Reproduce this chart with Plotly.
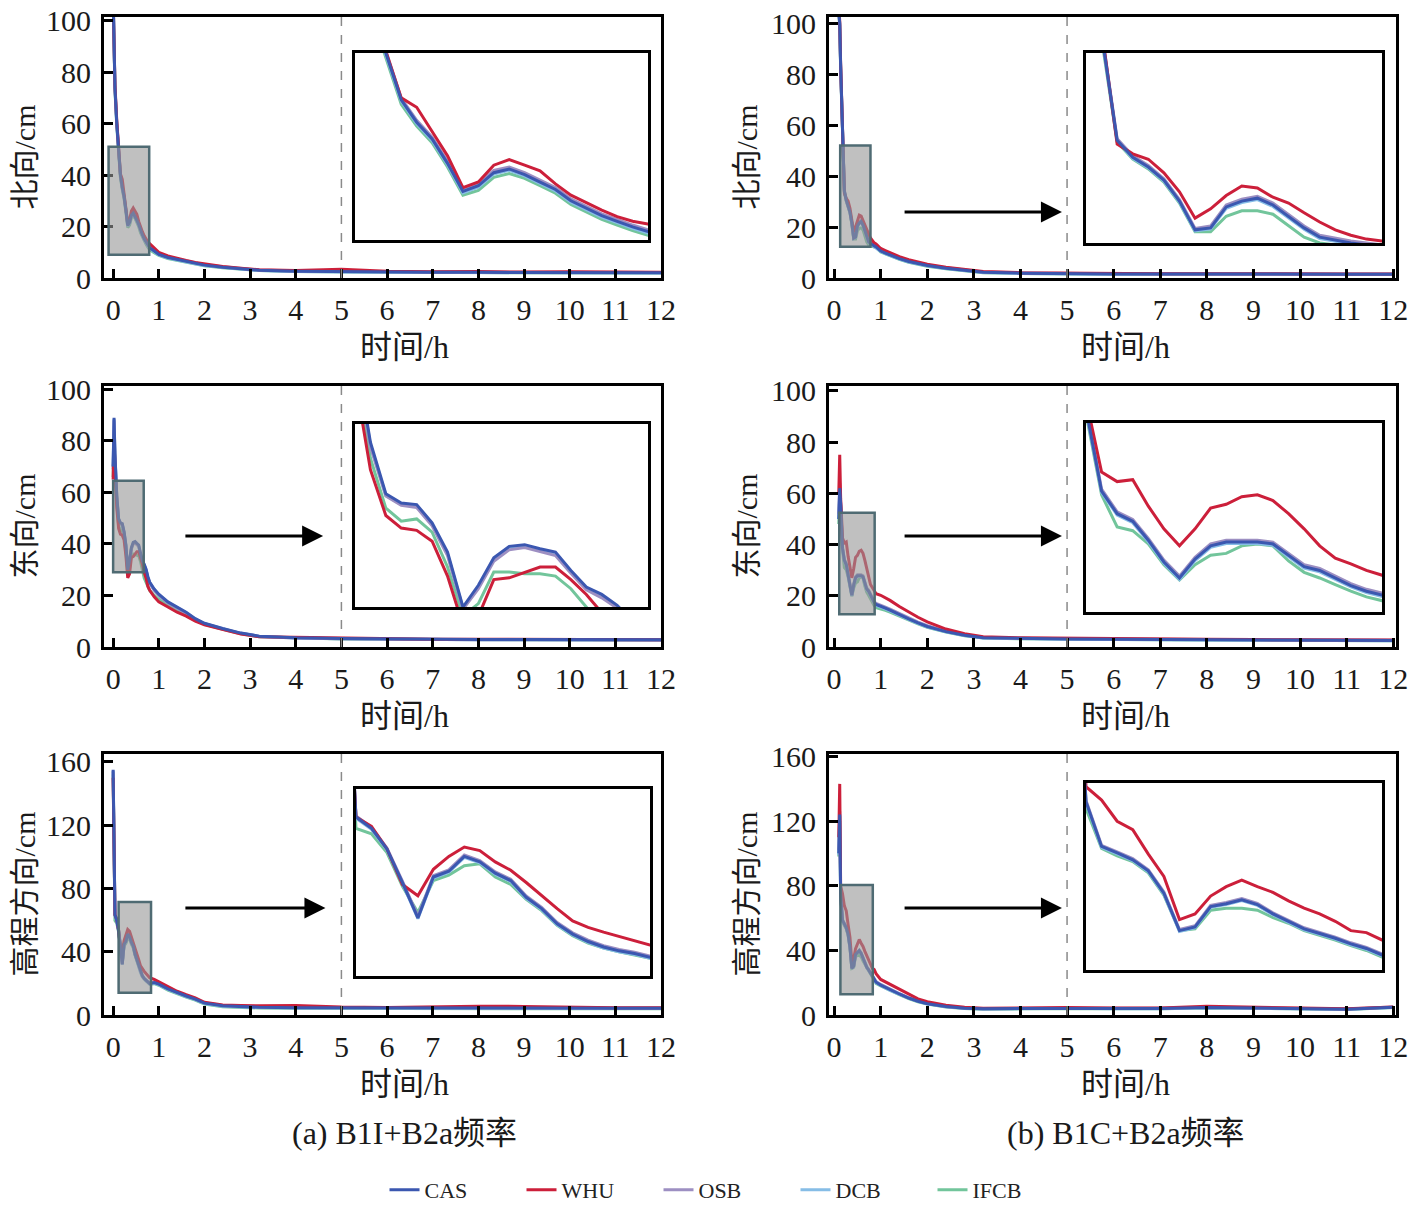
import plotly.graph_objects as go

W, H = 1414, 1212
FONT = "Liberation Serif, 'Noto Sans CJK SC', serif"

# -- time axes (h) ------------------------------------------------------------
time_a = [0, 0.02, 0.04, 0.08, 0.12, 0.16, 0.20, 0.24, 0.28, 0.32, 0.36, 0.40, 0.44, 0.48,
          0.52, 0.56, 0.60, 0.64, 0.68, 0.72, 0.76, 0.80, 0.9, 1.0, 1.2, 1.4, 1.6, 1.8, 2.0,
          2.4, 2.8, 3.2, 4, 5, 6, 7, 8, 9, 10, 11, 12]
time_b = [0.10, 0.12, 0.14, 0.18, 0.22, 0.26, 0.30, 0.34, 0.38, 0.42, 0.46, 0.50, 0.54, 0.58,
          0.62, 0.66, 0.70, 0.74, 0.78, 0.82, 0.86, 0.90, 1.0, 1.1, 1.2, 1.4, 1.6, 1.8, 2.0,
          2.4, 2.8, 3.2, 4, 5, 6, 7, 8, 9, 10, 11, 12]

# -- (a) B1I+B2a -----------------------------------------------------------------
north_a = {
    "CAS":  [110, 95, 74, 60, 50, 40, 35.2, 31.6, 26.4, 20.4, 21.6, 24.4, 25.2, 24.0, 22.4, 20.8,
             18.4, 16.8, 15.2, 14.0, 12.8, 11.8, 10.5, 9.2, 8.0, 7.2, 6.4, 5.6, 5.0, 4.2, 3.6, 3.0,
             2.6, 2.4, 2.3, 2.2, 2.2, 2.1, 2.2, 2.1, 2.0],
    "WHU":  [108, 93, 75, 61, 50.4, 40.4, 38.4, 33.2, 28.0, 21.2, 22.4, 26.0, 27.2, 26.0, 24.8, 22.0,
             19.6, 18.0, 16.4, 15.0, 14.0, 13.4, 11.5, 10.0, 8.6, 7.6, 6.8, 6.0, 5.4, 4.5, 3.8, 3.2,
             2.9, 3.4, 2.6, 2.4, 2.5, 2.3, 2.4, 2.3, 2.2],
    "OSB":  [110, 95.5, 74.5, 60.5, 50.3, 40.3, 35.6, 32.0, 26.8, 20.8, 22.0, 24.9, 25.6, 24.4, 22.8,
             21.2, 18.8, 17.2, 15.6, 14.4, 13.2, 12.2, 10.8, 9.5, 8.2, 7.4, 6.6, 5.8, 5.2, 4.4, 3.7,
             3.1, 2.7, 2.5, 2.4, 2.3, 2.3, 2.2, 2.3, 2.2, 2.1],
    "DCB":  [109.5, 94.5, 73.6, 59.6, 49.7, 39.7, 34.9, 31.3, 26.1, 20.1, 21.3, 24.1, 24.9, 23.7,
             22.1, 20.5, 18.1, 16.5, 14.9, 13.7, 12.5, 11.5, 10.3, 9.0, 7.8, 7.0, 6.3, 5.5, 4.9, 4.1,
             3.5, 2.9, 2.5, 2.3, 2.2, 2.1, 2.1, 2.0, 2.1, 2.0, 1.9],
    "IFCB": [109, 94, 73, 59, 49, 39, 34.4, 30.8, 25.6, 19.6, 20.6, 23.4, 24.2, 23.2, 21.6, 20.0,
             17.6, 16.0, 14.4, 13.2, 12.0, 11.0, 9.8, 8.8, 7.6, 6.9, 6.1, 5.4, 4.8, 4.0, 3.4, 2.9,
             2.5, 2.3, 2.2, 2.1, 2.1, 2.0, 2.1, 2.0, 1.9],
}
east_a = {
    "CAS":  [70, 89, 75, 58.8, 49.8, 48.2, 47.9, 44.7, 39.6, 30.0, 33.8, 38.6, 40.6, 40.9, 40.2, 39.6,
             36.4, 33.5, 32.2, 30.3, 27.4, 25.2, 22.5, 20.5, 17.5, 15.5, 13.5, 11.0, 9.2, 7.2, 5.4,
             4.2, 3.6, 3.3, 3.1, 3.0, 2.9, 2.9, 2.8, 2.8, 2.8],
    "WHU":  [65, 80, 70, 54, 46, 43.8, 43.4, 41.5, 35.4, 26.8, 28.4, 34.8, 35.1, 36.1, 37.0, 37.0,
             34.8, 32.2, 29.0, 26.8, 23.6, 22.0, 19.5, 17.5, 15.5, 13.5, 12.0, 10.0, 8.6, 6.8, 5.0,
             4.0, 3.8, 3.4, 3.2, 3.0, 3.0, 2.9, 2.9, 2.8, 2.8],
    "OSB":  [69, 88, 74, 58, 49.4, 47.8, 47.4, 44.2, 39.0, 29.6, 33.2, 38.0, 40.0, 40.4, 39.7, 39.0,
             35.9, 33.0, 31.6, 29.8, 26.9, 24.8, 22.0, 20.0, 17.1, 15.1, 13.1, 10.7, 9.0, 7.0, 5.3,
             4.1, 3.5, 3.2, 3.0, 2.9, 2.8, 2.8, 2.7, 2.7, 2.7],
    "DCB":  [70, 88.5, 74.5, 58.4, 49.5, 47.9, 47.6, 44.4, 39.3, 29.8, 33.5, 38.3, 40.3, 40.6, 39.9,
             39.3, 36.1, 33.2, 31.9, 30.0, 27.1, 24.9, 22.2, 20.2, 17.3, 15.3, 13.3, 10.8, 9.1, 7.1,
             5.3, 4.1, 3.5, 3.2, 3.0, 2.9, 2.8, 2.8, 2.7, 2.7, 2.7],
    "IFCB": [66, 84, 72, 56, 47.3, 45.0, 45.4, 43.1, 37.0, 28.4, 30.6, 36.1, 36.1, 35.8, 35.8, 35.4,
             33.2, 30.0, 26.8, 25.2, 23.6, 22.0, 20.0, 18.5, 16.0, 14.0, 12.5, 10.5, 8.8, 6.9, 5.1,
             4.0, 3.5, 3.1, 3.0, 2.9, 2.8, 2.8, 2.7, 2.7, 2.7],
}
up_a = {
    "CAS":  [155, 110, 63.3, 59.8, 53.4, 43.0, 32.0, 44.7, 46.5, 51.1, 49.4, 45.9, 43.6, 38.4, 34.9,
             30.2, 27.0, 24.7, 23.0, 21.8, 21.0, 19.8, 20.5, 19.5, 16.5, 14.0, 12.0, 10.0, 7.5, 5.8,
             5.2, 4.9, 4.6, 4.5, 4.5, 4.4, 4.5, 4.4, 4.3, 4.3, 4.3],
    "WHU":  [150, 108, 63.3, 60.4, 53.4, 42.4, 38.9, 47.1, 51.1, 54.0, 52.9, 49.4, 46.8, 43.0, 38.9,
             34.9, 31.1, 29.1, 27.6, 26.2, 25.0, 23.6, 22.5, 21.0, 18.0, 15.0, 12.8, 10.8, 8.0, 6.4,
             6.0, 5.8, 6.0, 5.0, 4.8, 5.2, 5.6, 5.4, 4.8, 4.6, 4.6],
    "OSB":  [154, 109, 63.6, 60.1, 53.7, 43.4, 32.5, 45.1, 46.9, 51.5, 49.8, 46.3, 44.0, 38.8, 35.3,
             30.6, 27.4, 25.1, 23.4, 22.2, 21.4, 20.2, 20.9, 19.9, 16.9, 14.3, 12.3, 10.3, 7.8, 6.0,
             5.4, 5.1, 4.8, 4.7, 4.7, 4.6, 4.7, 4.6, 4.5, 4.5, 4.5],
    "DCB":  [154.5, 109.5, 63.0, 59.5, 53.1, 42.7, 31.8, 44.4, 46.2, 50.8, 49.1, 45.6, 43.3, 38.1,
             34.6, 29.9, 26.7, 24.4, 22.7, 21.5, 20.7, 19.5, 20.2, 19.2, 16.2, 13.7, 11.7, 9.8, 7.3,
             5.6, 5.0, 4.7, 4.4, 4.3, 4.3, 4.2, 4.3, 4.2, 4.1, 4.1, 4.1],
    "IFCB": [152, 106, 59.8, 58.1, 52.3, 41.8, 33.7, 43.6, 45.3, 48.2, 48.8, 44.7, 42.4, 37.8, 34.3,
             29.7, 26.5, 24.2, 22.7, 21.5, 20.4, 19.5, 19.8, 18.8, 15.8, 13.4, 11.4, 9.4, 7.0, 5.2,
             4.6, 4.4, 4.2, 4.2, 4.1, 4.1, 4.0, 4.0, 4.0, 3.9, 3.9],
}

# -- (b) B1C+B2a -----------------------------------------------------------------
north_b = {
    "CAS":  [105, 100, 83, 56, 34.1, 30.6, 28.6, 25.9, 21.6, 15.7, 16.1, 20.4, 21.6, 22.2, 20.8, 18.5,
             16.1, 14.2, 13.6, 13.0, 12.6, 12.2, 10.6, 9.8, 9.0, 7.6, 6.5, 5.6, 4.9, 3.8, 3.0, 2.3,
             1.9, 1.7, 1.6, 1.6, 1.5, 1.5, 1.5, 1.5, 1.5],
    "WHU":  [106, 101, 84, 57, 33.3, 31.3, 30.2, 27.4, 23.5, 18.1, 20.0, 22.75, 24.7, 24.3, 22.4, 21.2,
             19.2, 17.3, 15.7, 14.6, 13.8, 13.4, 11.6, 10.8, 10.0, 8.4, 7.2, 6.2, 5.4, 4.2, 3.3, 2.6,
             2.1, 1.9, 1.8, 1.7, 1.7, 1.6, 1.6, 1.6, 1.6],
    "OSB":  [105, 100, 83.4, 56.4, 34.4, 30.9, 28.9, 26.2, 21.9, 16.0, 16.5, 20.8, 22.0, 22.6, 21.2,
             18.9, 16.5, 14.6, 14.0, 13.4, 13.0, 12.6, 10.9, 10.1, 9.3, 7.9, 6.8, 5.8, 5.1, 4.0, 3.1,
             2.4, 2.0, 1.8, 1.7, 1.7, 1.6, 1.6, 1.6, 1.6, 1.6],
    "DCB":  [104.5, 99.5, 82.7, 55.7, 33.9, 30.4, 28.4, 25.7, 21.4, 15.5, 15.9, 20.1, 21.3, 21.9,
             20.5, 18.2, 15.8, 13.9, 13.3, 12.8, 12.4, 12.0, 10.4, 9.6, 8.8, 7.4, 6.3, 5.5, 4.8, 3.7,
             2.9, 2.2, 1.8, 1.6, 1.5, 1.5, 1.4, 1.4, 1.4, 1.4, 1.4],
    "IFCB": [104, 99, 82, 55, 33.7, 30.2, 28.2, 25.5, 21.2, 15.3, 15.3, 18.5, 19.6, 19.6, 18.9, 16.5,
             14.2, 13.0, 12.6, 12.4, 12.2, 12.0, 10.2, 9.4, 8.6, 7.3, 6.2, 5.3, 4.6, 3.6, 2.8, 2.1,
             1.8, 1.6, 1.5, 1.5, 1.4, 1.4, 1.4, 1.4, 1.4],
}
east_b = {
    "CAS":  [50, 62, 56, 38.6, 33.8, 32.2, 28.2, 23.6, 20.2, 24.2, 27.0, 27.8, 27.8, 27.8, 27.4, 25.0,
             22.6, 21.8, 20.2, 18.6, 17.4, 16.6, 16.0, 15.2, 14.4, 12.6, 11.0, 9.4, 8.0, 6.0, 4.6,
             3.6, 3.3, 3.1, 3.0, 2.9, 2.8, 2.7, 2.6, 2.5, 2.5],
    "WHU":  [60, 75, 58, 42.6, 40.6, 41.0, 35.4, 30.6, 27.0, 30.6, 35.0, 35.8, 37.4, 37.8, 36.6, 33.8,
             30.6, 27.0, 24.4, 23.2, 21.8, 20.8, 20.2, 19.2, 18.2, 15.8, 13.6, 11.6, 9.8, 7.0, 5.2,
             4.0, 3.6, 3.4, 3.2, 3.1, 3.0, 2.9, 2.8, 2.8, 2.7],
    "OSB":  [52, 64, 56.5, 39.0, 34.2, 32.6, 28.6, 24.0, 20.6, 24.6, 27.4, 28.2, 28.2, 28.2, 27.8,
             25.4, 23.0, 22.2, 20.6, 19.0, 17.8, 17.0, 16.4, 15.6, 14.8, 13.0, 11.3, 9.7, 8.3, 6.2,
             4.7, 3.7, 3.4, 3.2, 3.1, 3.0, 2.9, 2.8, 2.7, 2.6, 2.6],
    "DCB":  [50, 61, 55.6, 38.3, 33.5, 31.9, 27.9, 23.3, 19.9, 23.9, 26.7, 27.5, 27.5, 27.5, 27.1,
             24.7, 22.3, 21.5, 19.9, 18.3, 17.1, 16.3, 15.7, 14.9, 14.1, 12.3, 10.8, 9.2, 7.8, 5.9,
             4.5, 3.5, 3.2, 3.0, 2.9, 2.8, 2.7, 2.6, 2.5, 2.4, 2.4],
    "IFCB": [48, 60, 55, 37.8, 31.0, 30.2, 27.4, 23.0, 19.8, 23.0, 25.0, 25.4, 27.0, 27.4, 27.0, 23.8,
             21.4, 20.2, 18.8, 17.4, 16.2, 15.4, 15.0, 14.3, 13.6, 12.0, 10.5, 9.0, 7.7, 5.8, 4.4,
             3.5, 3.2, 3.0, 2.9, 2.8, 2.7, 2.6, 2.5, 2.4, 2.4],
}
up_b = {
    "CAS":  [100, 124, 74.4, 58.6, 56.3, 53.9, 50.0, 42.1, 28.9, 30.2, 37.4, 38.4, 39.8, 38.1, 34.8,
             32.2, 29.5, 27.9, 26.2, 24.2, 22.6, 20.3, 18.5, 17.0, 15.5, 13.0, 10.5, 8.5, 7.0, 5.2,
             4.2, 3.8, 4.0, 4.2, 4.0, 4.0, 4.6, 4.3, 3.9, 3.6, 4.8],
    "WHU":  [110, 143, 79.7, 75.0, 67.5, 64.5, 55.9, 48.0, 32.8, 34.8, 41.1, 44.4, 46.7, 44.4, 42.4,
             39.4, 36.8, 34.8, 32.2, 28.9, 28.2, 25.6, 22.0, 20.5, 19.0, 16.0, 12.5, 10.0, 8.2, 6.0,
             4.8, 4.2, 4.4, 4.6, 4.3, 4.4, 5.4, 4.8, 4.2, 3.8, 5.0],
    "OSB":  [102, 126, 74.8, 59.0, 56.7, 54.3, 50.4, 42.5, 29.3, 30.6, 37.8, 38.8, 40.2, 38.5, 35.2,
             32.6, 29.9, 28.3, 26.6, 24.6, 23.0, 20.7, 18.9, 17.4, 15.9, 13.3, 10.8, 8.7, 7.2, 5.3,
             4.3, 3.9, 4.1, 4.3, 4.1, 4.1, 4.8, 4.4, 4.0, 3.7, 4.9],
    "DCB":  [99, 123, 74.0, 58.3, 56.0, 53.6, 49.7, 41.8, 28.6, 29.9, 37.1, 38.1, 39.5, 37.8, 34.5,
             31.9, 29.2, 27.6, 25.9, 23.9, 22.3, 20.0, 18.2, 16.8, 15.3, 12.8, 10.4, 8.4, 6.9, 5.1,
             4.1, 3.7, 3.9, 4.1, 3.9, 3.9, 4.5, 4.2, 3.8, 3.5, 4.7],
    "IFCB": [98, 120, 72.0, 57.9, 55.3, 53.3, 49.3, 41.4, 28.9, 29.5, 36.1, 36.8, 36.8, 36.1, 33.5,
             31.5, 28.9, 27.2, 25.6, 23.6, 21.9, 19.6, 18.0, 16.6, 15.1, 12.6, 10.2, 8.2, 6.8, 5.0,
             4.0, 3.6, 3.8, 4.0, 3.8, 3.8, 4.3, 4.1, 3.7, 3.4, 4.6],
}

series = ["CAS", "WHU", "OSB", "DCB", "IFCB"]
colors = {"CAS": "#3b57b0", "WHU": "#cc1f3a", "OSB": "#9d8fc2", "DCB": "#86bde6", "IFCB": "#72c59b"}
x_ticks = list(range(0, 13))

# -- layout of the six panels (pixel boxes: left, top, right, bottom) ------------
panels = [
    dict(data=north_a, t=time_a, ytitle="北向/cm", box=(104, 17, 661, 278), xr=[-0.2, 12.0],
         yr=[0, 101.5], dtick=20, inset=(355, 53, 648, 240), ixr=[0.04, 0.80], iyr=[10, 50],
         gray=(-0.1, 9, 0.79, 51), arrow=None),
    dict(data=north_b, t=time_b, ytitle="北向/cm", box=(829, 17, 1396, 278), xr=[-0.11, 12.06],
         yr=[0, 102.5], dtick=20, inset=(1086, 53, 1382, 243), ixr=[0.14, 0.90], iyr=[13, 52],
         gray=(0.13, 12.3, 0.78, 52), arrow=(1.48, 4.89, 25.9)),
    dict(data=east_a, t=time_a, ytitle="东向/cm", box=(104, 386, 661, 647), xr=[-0.2, 12.0],
         yr=[0, 101.3], dtick=20, inset=(355, 424, 648, 607), ixr=[0.04, 0.80], iyr=[30, 62],
         gray=(0.0, 29, 0.67, 64.5), arrow=(1.55, 4.6, 43.1)),
    dict(data=east_b, t=time_b, ytitle="东向/cm", box=(829, 386, 1396, 647), xr=[-0.11, 12.06],
         yr=[0, 101.9], dtick=20, inset=(1086, 423, 1382, 612), ixr=[0.14, 0.90], iyr=[13, 53],
         gray=(0.11, 12.8, 0.87, 52.4), arrow=(1.48, 4.89, 43.3)),
    dict(data=up_a, t=time_a, ytitle="高程方向/cm", box=(104, 754, 661, 1015), xr=[-0.2, 12.0],
         yr=[0, 165], dtick=40, inset=(356, 789, 650, 976), ixr=[0.04, 0.80], iyr=[14, 72],
         gray=(0.12, 14, 0.83, 71.5), arrow=(1.55, 4.65, 67.6)),
    dict(data=up_b, t=time_b, ytitle="高程方向/cm", box=(829, 754, 1396, 1015), xr=[-0.11, 12.06],
         yr=[0, 161.5], dtick=40, inset=(1086, 783, 1382, 970), ixr=[0.14, 0.90], iyr=[15, 81],
         gray=(0.135, 12.8, 0.83, 80.4), arrow=(1.48, 4.89, 66.2)),
]


def px(x):
    return x / W


def py(y):
    return 1 - y / H


def text_note(text, x, y, size=32, angle=0):
    return dict(text=text, x=px(x), y=py(y), xref="paper", yref="paper", showarrow=False,
                xanchor="center", yanchor="middle", textangle=angle,
                font=dict(family=FONT, size=size, color="#1a1a1a"))


fig = go.Figure()
layout = {}
shapes = []
annotations = []

for i, p in enumerate(panels):
    m, n = i + 1, i + 7  # main axis id, inset axis id
    mx, my = ("x" if m == 1 else f"x{m}"), ("y" if m == 1 else f"y{m}")
    nx, ny = f"x{n}", f"y{n}"
    l, t, r, b = p["box"]
    il, it, ir, ib = p["inset"]

    # traces: CAS drawn last so it sits on top
    for s in reversed(series):
        for ax_x, ax_y in ((mx, my), (nx, ny)):
            fig.add_trace(go.Scatter(
                x=p["t"], y=p["data"][s], mode="lines", name=s,
                line=dict(color=colors[s], width=3),
                xaxis=ax_x, yaxis=ax_y,
                showlegend=(i == 0 and ax_x == mx),
                legendrank=series.index(s) + 1,
                hoverinfo="skip",
            ))

    ak = "" if m == 1 else str(m)
    common = dict(showgrid=False, zeroline=False, automargin=False,
                  showline=True, mirror=True, linecolor="black")
    layout[f"xaxis{ak}"] = dict(
        domain=[px(l), px(r)], range=p["xr"], anchor=my, tickvals=x_ticks,
        ticks="inside", ticklen=9, tickwidth=3, tickcolor="black", linewidth=3,
        ticklabelstandoff=3, ticklabeloverflow="allow",
        tickfont=dict(family=FONT, size=30, color="#1a1a1a"), **common,
    )
    layout[f"yaxis{ak}"] = dict(
        domain=[py(b), py(t)], range=p["yr"], anchor=mx, dtick=p["dtick"], tick0=0,
        ticks="inside", ticklen=9, tickwidth=3, tickcolor="black", linewidth=3,
        ticklabelstandoff=4, ticklabeloverflow="allow",
        tickfont=dict(family=FONT, size=30, color="#1a1a1a"), **common,
    )
    layout[f"xaxis{n}"] = dict(domain=[px(il), px(ir)], range=p["ixr"], anchor=ny,
                               showticklabels=False, ticks="", linewidth=2.5, **common)
    layout[f"yaxis{n}"] = dict(domain=[py(ib), py(it)], range=p["iyr"], anchor=nx,
                               showticklabels=False, ticks="", linewidth=2.5, **common)

    # dashed divider at 5 h
    shapes.append(dict(type="line", xref=mx, yref=f"{my} domain", x0=5, x1=5, y0=0, y1=1,
                       line=dict(color="#8a8a8a", width=1.5, dash="dash")))
    # grey zoom window
    gx0, gy0, gx1, gy1 = p["gray"]
    shapes.append(dict(type="rect", xref=mx, yref=my, x0=gx0, x1=gx1, y0=gy0, y1=gy1,
                       fillcolor="rgba(150,150,150,0.6)", line=dict(color="#4f6b73", width=2.5),
                       layer="above"))
    # arrow pointing to the inset
    if p["arrow"]:
        ax0, ax1, ay = p["arrow"]
        annotations.append(dict(x=ax1, y=ay, ax=ax0, ay=ay, xref=mx, yref=my, axref=mx, ayref=my,
                                text="", showarrow=True, arrowhead=2, arrowsize=1.4,
                                arrowwidth=3, arrowcolor="black"))
    left_col = l < 500
    annotations.append(text_note(p["ytitle"], 24 if left_col else 746, (t + b) / 2 + 10,
                                 size=30, angle=-90))
    annotations.append(text_note("时间/h", 404 if left_col else 1125, b + 69))

annotations.append(text_note("(a) B1I+B2a频率", 404, 1133))
annotations.append(text_note("(b) B1C+B2a频率", 1126, 1133))

fig.update_layout(
    width=W, height=H,
    margin=dict(l=0, r=0, t=0, b=0, autoexpand=False),
    paper_bgcolor="white", plot_bgcolor="white",
    shapes=shapes, annotations=annotations,
    legend=dict(orientation="h", x=px(727), xanchor="center", y=py(1190), yanchor="middle",
                font=dict(family=FONT, size=22, color="#222"), traceorder="normal",
                entrywidth=92, entrywidthmode="pixels"),
    **layout,
)

# drop the page's default body margin so the figure sits at the window origin
fig.write_html("out.html", config={"displayModeBar": False},
               post_script="document.body.style.margin = '0';")
